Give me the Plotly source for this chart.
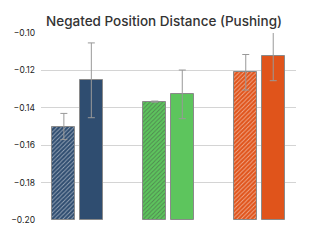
import plotly.graph_objects as go

groups = [0, 1, 2]
hatched_vals = [-0.150, -0.1367, -0.121]
hatched_err = [0.007, 0.0003, 0.0095]
solid_vals = [-0.1253, -0.1328, -0.1121]
solid_err = [0.020, 0.013, 0.0134]
colors = ["#2f4d70", "#5dc55d", "#e0541b"]
yticks = [-0.20, -0.18, -0.16, -0.14, -0.12, -0.10]
ytick_text = ["\u22120.20", "\u22120.18", "\u22120.16", "\u22120.14", "\u22120.12", "\u22120.10"]
title = "Negated Position Distance (Pushing)"

base = -0.20
fig = go.Figure()
fig.add_trace(go.Bar(
    x=groups, y=[v - base for v in hatched_vals], base=base,
    width=0.255, offset=-0.28,
    marker=dict(color=colors, line=dict(color="#8a8a8a", width=1),
                pattern=dict(shape="/", fgcolor="#8f8f8f", size=3, solidity=0.3, fillmode="overlay")),
    error_y=dict(type="data", array=hatched_err, color="#999999", thickness=1, width=3.5),
    showlegend=False,
))
fig.add_trace(go.Bar(
    x=groups, y=[v - base for v in solid_vals], base=base,
    width=0.255, offset=0.022,
    marker=dict(color=colors, line=dict(color="#8a8a8a", width=1)),
    error_y=dict(type="data", array=solid_err, color="#999999", thickness=1, width=3.5),
    showlegend=False,
))
fig.update_layout(
    width=321, height=239,
    margin=dict(l=33, r=33, t=25, b=27),
    paper_bgcolor="white", plot_bgcolor="white",
    title=dict(text=title, x=0.486, xanchor="center", y=0.946, yanchor="middle",
               font=dict(family="Inter", size=13.5, color="#333333", weight=500)),
    font=dict(family="Inter", color="#222222"),
    xaxis=dict(range=[-0.404, 2.4], showticklabels=False, showgrid=False, zeroline=False, showline=False, ticks="", automargin=False),
    yaxis=dict(range=[-0.2, -0.1], tickvals=yticks, ticktext=ytick_text, tickfont=dict(size=8.5, color="#222222"),
               showgrid=True, gridcolor="#d4d4d4", gridwidth=1, zeroline=False, showline=False, ticks="",
               ticklabelstandoff=5, automargin=False),
    bargap=0,
)
fig.write_html("out.html")
